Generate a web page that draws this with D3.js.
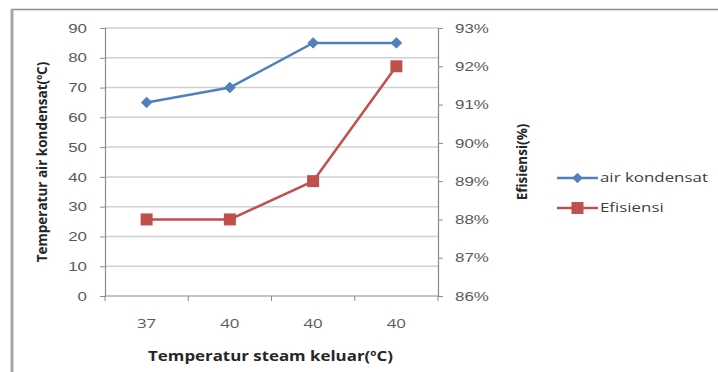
<!DOCTYPE html>
<html>
<head>
<meta charset="utf-8">
<script src="https://cdn.jsdelivr.net/npm/d3@7/dist/d3.min.js"></script>
<style>
  html, body { margin: 0; padding: 0; background: #fff; }
  svg { display: block; font-family: "Open Sans", "Liberation Sans", sans-serif; }
</style>
</head>
<body>
<svg id="chart" width="718" height="372"></svg>
<script>
// Data
const categories = ["37", "40", "40", "40"];
const airKondensat = [65, 70, 85, 85];
const efisiensi = [0.88, 0.88, 0.89, 0.92];
const leftTicks = [0, 10, 20, 30, 40, 50, 60, 70, 80, 90];
const rightTicks = [0.86, 0.87, 0.88, 0.89, 0.90, 0.91, 0.92, 0.93];
const seriesNames = ["air kondensat", "Efisiensi"];

const svg = d3.select("#chart");
const W = 718, H = 372;
const plot = { left: 105, right: 438, top: 28, bottom: 296 };
const blue = "#4F81BD", red = "#C0504D";
const WIDE = 1.3; // horizontal stretch of the label face

// widen horizontal labels in place, keeping their anchor point
function widen(sel, s) {
  sel.each(function () {
    const t = d3.select(this);
    const x0 = +t.attr("x") || 0;
    t.attr("x", x0 / s).attr("transform", `scale(${s},1)`);
  });
}

// chart frame
svg.append("rect").attr("x", 0).attr("y", 0).attr("width", W).attr("height", H).attr("fill", "#fff");
svg.append("line").attr("x1", 11).attr("x2", W).attr("y1", 9.5).attr("y2", 9.5)
  .attr("stroke", "#8c8c8c").attr("stroke-width", 1.5);
svg.append("line").attr("x1", 12).attr("x2", 12).attr("y1", 9).attr("y2", H)
  .attr("stroke", "#a6a6a6").attr("stroke-width", 3);

const x = d3.scaleBand().domain(d3.range(categories.length))
  .range([plot.left, plot.right]).paddingInner(0).paddingOuter(0);
const yL = d3.scaleLinear().domain([0, 90]).range([plot.bottom, plot.top]);
const yR = d3.scaleLinear().domain([0.86, 0.93]).range([plot.bottom, plot.top]);
const cx = i => x(i) + x.bandwidth() / 2;

// gridlines
svg.append("g").selectAll("line").data(leftTicks.filter(d => d > 0)).join("line")
  .attr("x1", plot.left).attr("x2", plot.right)
  .attr("y1", d => yL(d)).attr("y2", d => yL(d))
  .attr("stroke", "#d0d0d0").attr("stroke-width", 1.5);

// left axis
const gL = svg.append("g").attr("transform", `translate(${plot.left},0)`)
  .call(d3.axisLeft(yL).tickValues(leftTicks).tickSize(5).tickPadding(13));
gL.select(".domain").attr("stroke", "#8a8a8a").attr("stroke-width", 1.2);
gL.selectAll(".tick line").attr("stroke", "#8a8a8a");
gL.selectAll(".tick text").attr("fill", "#5a5a5a").style("font-size", "13px");
widen(gL.selectAll(".tick text"), WIDE);

// right axis
const gR = svg.append("g").attr("transform", `translate(${plot.right},0)`)
  .call(d3.axisRight(yR).tickValues(rightTicks).tickSize(5).tickPadding(12).tickFormat(d3.format(".0%")));
gR.select(".domain").attr("stroke", "#8a8a8a").attr("stroke-width", 1.2);
gR.selectAll(".tick line").attr("stroke", "#8a8a8a");
gR.selectAll(".tick text").attr("fill", "#5a5a5a").style("font-size", "13px");
widen(gR.selectAll(".tick text"), WIDE);

// bottom axis
const gB = svg.append("g").attr("transform", `translate(0,${plot.bottom})`);
gB.append("line").attr("x1", plot.left).attr("x2", plot.right).attr("y1", 0).attr("y2", 0)
  .attr("stroke", "#8a8a8a").attr("stroke-width", 1.2);
gB.selectAll("line.cat").data(d3.range(categories.length + 1)).join("line").attr("class", "cat")
  .attr("x1", i => plot.left + i * x.bandwidth()).attr("x2", i => plot.left + i * x.bandwidth())
  .attr("y1", 0).attr("y2", 5).attr("stroke", "#8a8a8a");
const catText = gB.selectAll("text").data(categories).join("text")
  .attr("x", (d, i) => cx(i)).attr("y", 32).attr("text-anchor", "middle")
  .attr("fill", "#5a5a5a").style("font-size", "13px").text(d => d);
widen(catText, WIDE);

// axis titles
function title(xx, yy, rot, sx, size) {
  return svg.append("text").attr("text-anchor", "middle")
    .attr("transform", `translate(${xx},${yy}) rotate(${rot}) scale(${sx},1)`)
    .attr("fill", "#262626").style("font-size", size + "px").style("font-weight", "bold");
}
const tx = title((plot.left + plot.right) / 2 - 1, 361, 0, 1.25, 13.5);
tx.append("tspan").text("Temperatur steam keluar(");
tx.append("tspan").attr("dy", -5).style("font-size", "8px").text("o");
tx.append("tspan").attr("dy", 5).text("C)");

const tl = title(47, 162, -90, 1, 13.5);
tl.append("tspan").text("Temperatur air kondensat(");
tl.append("tspan").attr("dy", -5).style("font-size", "8px").text("o");
tl.append("tspan").attr("dy", 5).text("C)");

title(527, 162, -90, 1, 13.5).text("Efisiensi(%)");

// series lines
const lineL = d3.line().x((d, i) => cx(i)).y(d => yL(d));
const lineR = d3.line().x((d, i) => cx(i)).y(d => yR(d));
svg.append("path").datum(airKondensat).attr("d", lineL)
  .attr("fill", "none").attr("stroke", blue).attr("stroke-width", 2.5);
svg.append("path").datum(efisiensi).attr("d", lineR)
  .attr("fill", "none").attr("stroke", red).attr("stroke-width", 2.5);

// markers
const diamond = d3.symbol().type(d3.symbolDiamond2).size(70);
svg.append("g").selectAll("path").data(airKondensat).join("path")
  .attr("d", diamond).attr("transform", (d, i) => `translate(${cx(i)},${yL(d)})`)
  .attr("fill", blue).attr("stroke", blue).attr("stroke-width", 1);
svg.append("g").selectAll("rect").data(efisiensi).join("rect")
  .attr("x", (d, i) => cx(i) - 6).attr("y", d => yR(d) - 6)
  .attr("width", 12).attr("height", 12).attr("fill", red);

// legend
const lg = svg.append("g");
const items = [{ name: seriesNames[0], color: blue, y: 178, shape: "d" },
               { name: seriesNames[1], color: red, y: 208, shape: "s" }];
items.forEach(it => {
  lg.append("line").attr("x1", 557).attr("x2", 598).attr("y1", it.y).attr("y2", it.y)
    .attr("stroke", it.color).attr("stroke-width", 2.5);
  if (it.shape === "d") {
    lg.append("path").attr("d", diamond).attr("transform", `translate(577.5,${it.y})`).attr("fill", it.color);
  } else {
    lg.append("rect").attr("x", 571.5).attr("y", it.y - 6).attr("width", 12).attr("height", 12).attr("fill", it.color);
  }
  const t = lg.append("text").attr("x", 600).attr("y", it.y + 4.5).attr("fill", "#404040")
    .style("font-size", "13px").text(it.name);
  widen(t, WIDE);
});
</script>
</body>
</html>
